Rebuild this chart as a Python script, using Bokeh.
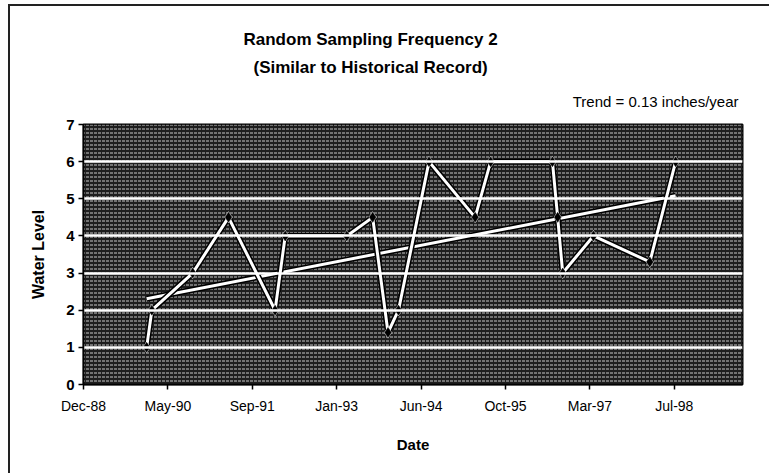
import pandas as pd
from bokeh.plotting import figure
from bokeh.models import Range1d, FixedTicker, DatetimeTickFormatter, Title, ColumnDataSource
from bokeh.embed import file_html
from bokeh.resources import INLINE

# ---- data ----
sample_dates = ["1990-01-01", "1990-02-01", "1990-10-01", "1991-05-01", "1992-02-01",
                "1992-04-01", "1993-04-01", "1993-09-01", "1993-12-01", "1994-02-01",
                "1994-08-01", "1995-05-01", "1995-08-01", "1996-08-01", "1996-09-01",
                "1996-10-01", "1997-04-01", "1998-03-01", "1998-08-01"]
water_level = [1.0, 2.0, 3.0, 4.5, 2.0, 4.0, 4.0, 4.5, 1.4, 2.0,
               6.0, 4.5, 6.0, 6.0, 4.5, 3.0, 4.0, 3.3, 6.0]
trend_dates = ["1990-01-01", "1998-08-01"]
trend_values = [2.31, 5.08]
tick_dates = ["1988-12-23", "1990-05-07", "1991-09-19", "1993-01-31",
              "1994-06-15", "1995-10-28", "1997-03-11", "1998-07-24"]
y_ticks = [0, 1, 2, 3, 4, 5, 6, 7]
title_line1 = "Random Sampling Frequency 2"
title_line2 = "(Similar to Historical Record)"
trend_text = "Trend = 0.13 inches/year"

def ms(d):
    return pd.Timestamp(d).value / 1e6

x_start = ms("1988-12-23")
x_end = ms("1999-09-01")

# outer chart frame is drawn with CSS borders; canvas starts at (10, 6)
OX, OY = 10, 6
W, H = 771 - OX, 475 - OY
BL, BR, BT, BB = 83 - OX, 29, 124 - OY, 91

p = figure(width=W, height=H, output_backend="svg", toolbar_location=None,
           x_axis_type="datetime", title_location=None,
           x_range=Range1d(x_start, x_end), y_range=Range1d(0, 7),
           min_border_left=BL, min_border_right=BR, min_border_top=BT, min_border_bottom=BB,
           styles={"margin-left": "8px", "margin-top": "4px",
                   "border-left": "2px solid #222222", "border-top": "2px solid #222222"})

p.background_fill_color = "#1e1e1e"
p.border_fill_color = "white"
p.outline_line_color = "black"
p.outline_line_width = 2

# textured plot area
p.quad(left=[x_start], right=[x_end], bottom=[0], top=[7],
       fill_color="#1e1e1e", line_color=None,
       hatch_pattern="horizontal_dash", hatch_color="white", hatch_alpha=0.75,
       hatch_scale=4, hatch_weight=1)

# grid
p.xgrid.grid_line_color = None
p.ygrid.grid_line_color = "white"
p.ygrid.grid_line_width = 2.5
p.ygrid.level = "glyph"

# axes
p.yaxis.ticker = FixedTicker(ticks=y_ticks)
p.xaxis.ticker = FixedTicker(ticks=[ms(d) for d in tick_dates])
fmt = "%b-%y"
p.xaxis.formatter = DatetimeTickFormatter(days=fmt, months=fmt, years=fmt, hours=fmt,
                                          minutes=fmt, seconds=fmt, milliseconds=fmt,
                                          microseconds=fmt, minsec=fmt, hourmin=fmt)
for ax in (p.xaxis[0], p.yaxis[0]):
    ax.axis_line_color = "black"
    ax.axis_line_width = 1.5
    ax.major_tick_line_color = "black"
    ax.major_tick_line_width = 1.5
    ax.major_tick_out = 5
    ax.major_tick_in = 0
    ax.minor_tick_line_color = None
    ax.major_label_text_font = "Liberation Sans"
    ax.major_label_text_font_size = "14px"
    ax.major_label_text_color = "black"
    ax.axis_label_text_font = "Liberation Sans"
    ax.axis_label_text_font_style = "bold"
    ax.axis_label_text_color = "black"

p.yaxis.major_label_text_font_style = "bold"
p.yaxis.major_label_text_font_size = "15px"
p.yaxis.major_label_standoff = 4
p.yaxis.axis_label = "Water Level"
p.yaxis.axis_label_text_font_size = "16px"
p.yaxis.axis_label_standoff = 16
p.xaxis.major_label_standoff = 8
p.xaxis.axis_label = "Date"
p.xaxis.axis_label_text_font_size = "15px"
p.xaxis.axis_label_standoff = 19

# trend line
tx = [ms(d) for d in trend_dates]
p.line(tx, trend_values, line_color="black", line_width=6)
p.line(tx, trend_values, line_color="white", line_width=3)

# data line
src = ColumnDataSource(dict(x=[ms(d) for d in sample_dates], y=water_level))
p.line("x", "y", source=src, line_color="black", line_width=6, line_join="round")
p.line("x", "y", source=src, line_color="white", line_width=3, line_join="round")
p.scatter("x", "y", source=src, marker="diamond", size=12, fill_color="white",
          line_color=None)
p.scatter("x", "y", source=src, marker="diamond", size=10, fill_color="black",
          line_color="black", line_width=0.5)

# titles (first added = closest to the frame)
p.add_layout(Title(text=trend_text, align="right", offset=4, standoff=29,
                   text_font="Liberation Sans", text_font_style="normal",
                   text_font_size="15px", text_color="black"), "above")
p.add_layout(Title(text=title_line2, align="left", offset=170, standoff=-0.6,
                   text_font="Liberation Sans", text_font_style="bold",
                   text_font_size="17px", text_color="black"), "above")
p.add_layout(Title(text=title_line1, align="left", offset=160, standoff=14.6,
                   text_font="Liberation Sans", text_font_style="bold",
                   text_font_size="17px", text_color="black"), "above")

open("out.html", "w").write(file_html(p, INLINE))
